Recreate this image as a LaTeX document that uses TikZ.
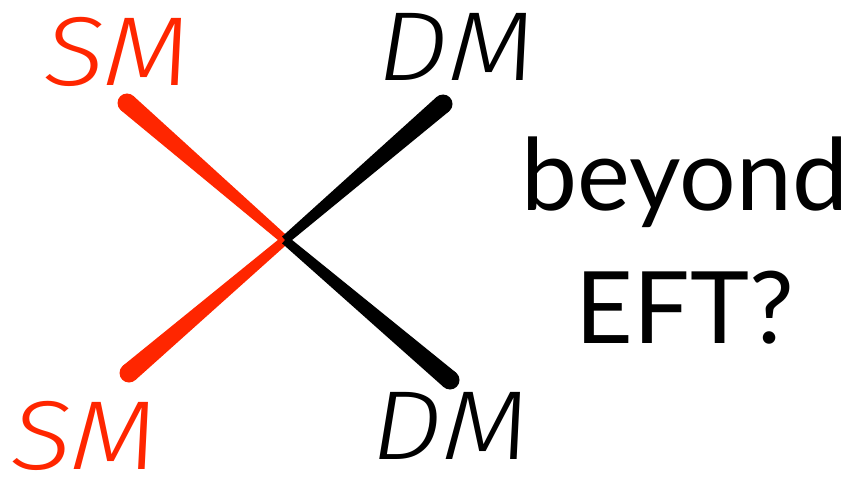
\documentclass[tikz,border=0pt]{standalone}
\usepackage{fontspec}
\setmainfont{Lato}
\newfontfamily\handfont{Fira Sans Light Italic}[FakeStretch=1.15]
\usetikzlibrary{calc}
\definecolor{smred}{HTML}{FF2600}
\tikzset{
    particle/.style={inner sep=0pt, font=\handfont\fontsize{98}{98}\selectfont},
    question/.style={inner sep=0pt, anchor=base, font=\fontsize{100}{100}\selectfont},
}
% tapered leg from an outer end (#1) to the vertex
\newcommand\drawleg[2]{
    \fill[#2] ($(#1)!9.5pt!90:(vtx)$) -- ($(vtx)!4.5pt!-90:(#1)$)
        -- ($(vtx)!4.5pt!90:(#1)$) -- ($(#1)!9.5pt!-90:(vtx)$) -- cycle;
    \fill[#2] (#1) circle[radius=9.5pt];
}

\begin{document}
\begin{tikzpicture}[x=1pt, y=-1pt]

    \useasboundingbox (0,0) rectangle (862,484);

    % vertex and the four legs
    \coordinate (vtx) at (285,240);
    \coordinate (smt) at (127,103);
    \coordinate (smb) at (129,373);
    \coordinate (dmt) at (443,104);
    \coordinate (dmb) at (450,380);

    \drawleg{smt}{smred}
    \drawleg{smb}{smred}
    \drawleg{dmt}{black}
    \drawleg{dmb}{black}

    % particle names
    \node[particle, text=smred] (smtxt) at (117,52) {SM};
    \node[particle, text=smred] (smbtxt) at (84,436) {SM};
    \node[particle] (dmtxt) at (456,47) {DM};
    \node[particle] (dmbtxt) at (450,426) {DM};

    \node[question] (beyond) at (685,210) {beyond};
    \node[question] (eft) at (685,343) {EFT?};

\end{tikzpicture}
\end{document}
